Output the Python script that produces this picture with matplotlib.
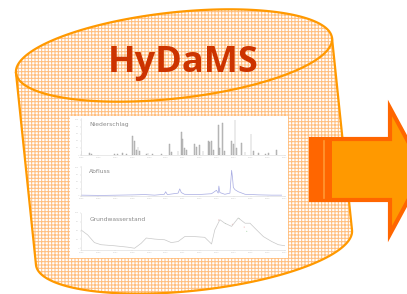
import numpy as np
import matplotlib
matplotlib.use("Agg")
import matplotlib.pyplot as plt
from matplotlib.patches import Rectangle, Polygon

# --- data (decimal years) ---
years = [1995, 1996, 1997, 1998, 1999, 2000, 2001, 2002, 2003, 2004, 2005, 2006, 2007]

rain_x = [1995.0, 1995.5, 1995.6, 1996.97, 1997.17, 1997.46, 1997.66, 1998.05, 1998.15,
          1998.25, 1998.35, 1998.45, 1998.84, 1998.94, 1999.72, 1999.2, 2000.22, 2000.31,
          2000.71, 2000.9, 2000.99, 2001.09, 2001.19, 2001.69, 2001.79, 2001.99, 2002.18,
          2002.48, 2002.58, 2002.68, 2002.78, 2003.07, 2003.17, 2003.31, 2003.46, 2003.86,
          2003.96, 2004.06, 2004.15, 2004.45, 2004.65, 2005.0, 2005.14, 2005.43, 2005.83,
          2006.02, 2006.52]
rain_mm = [12, 5, 3, 3, 4, 5, 4, 55, 40, 15, 22, 12, 4, 6, 3, 3, 30, 8, 10, 65, 45, 20,
           15, 30, 22, 28, 10, 40, 38, 40, 15, 85, 20, 90, 10, 40, 30, 100, 20, 35, 8, 60,
           10, 5, 4, 5, 15]

flow_x = [1995.0, 1996.18, 1997.17, 1998.15, 1998.74, 1999.33, 1999.9, 1999.98, 2000.08,
          2000.71, 2000.81, 2000.9, 2001.09, 2001.89, 2002.68, 2002.97, 2003.07, 2003.11,
          2003.17, 2003.46, 2003.76, 2003.86, 2003.92, 2003.96, 2004.06, 2004.25, 2004.65,
          2005.43, 2006.22, 2006.8]
flow_q = [3, 2, 3, 4, 5, 3, 6, 15, 5, 10, 25, 12, 6, 5, 8, 20, 10, 35, 12, 6, 10, 90,
          60, 30, 22, 15, 6, 4, 3, 3]

gw_x = [1995.0, 1995.39, 1995.79, 1996.18, 1996.97, 1997.76, 1998.15, 1998.54, 1998.84,
        1999.33, 1999.92, 2000.31, 2000.71, 2001.1, 2001.69, 2002.28, 2002.68, 2002.87,
        2003.17, 2003.46, 2003.86, 2004.25, 2004.65, 2004.94, 2005.33, 2005.73, 2006.22,
        2006.61, 2007.0]
gw_h = [52, 38, 16, 10, 7, 3, 0, 14, 29, 26, 24, 16, 19, 33, 33, 31, 12, 52, 81, 71, 62,
        86, 71, 71, 52, 33, 19, 10, 7]
gw_obs_x = [2003.1, 2003.5, 2003.9, 2004.3, 2004.6, 2004.75]
gw_obs_h = [80, 70, 68, 84, 60, 48]

fig = plt.figure(figsize=(4.07, 2.94), dpi=100)
ax = fig.add_axes([0, 0, 1, 1])
ax.set_xlim(0, 407)
ax.set_ylim(294, 0)
ax.axis("off")

# --- cylinder ---
plt.rcParams["hatch.linewidth"] = 0.75
L, R = np.array([16.0, 73.0]), np.array([332.0, 38.0])
c = (L + R) / 2
a = np.hypot(*(R - L)) / 2
th = np.arctan2(R[1] - L[1], R[0] - L[0])
u = np.array([np.cos(th), np.sin(th)])
v = np.array([-np.sin(th), np.cos(th)])
b = 43.0
shift = np.array([20.0, 192.0])


def arc(t0, t1, off=np.zeros(2)):
    t = np.linspace(t0, t1, 120)
    return c + off + np.outer(a * np.cos(t), u) + np.outer(b * np.sin(t), v)


sil = np.vstack([arc(np.pi, 2 * np.pi), arc(0, np.pi, shift)])
ax.add_patch(Polygon(sil, closed=True, facecolor="white", edgecolor="#FFBF80",
                     hatch="+++++", linewidth=0, zorder=1))
ax.add_patch(Polygon(sil, closed=True, fill=False, edgecolor="#FF9900",
                     linewidth=1.6, zorder=2))
front = arc(0, np.pi)
ax.plot(front[:, 0], front[:, 1], color="#FF9900", lw=1.6, zorder=2)

ax.text(108, 72, "HyDaMS", fontsize=26, fontweight="bold", family="Open Sans",
        color="#CC3300", ha="left", va="baseline", zorder=3)

# white card holding the three charts
ax.add_patch(Rectangle((70, 116), 218, 142, facecolor="white", edgecolor="none", zorder=3))

# --- arrow ---
arrow = [(311, 139), (390, 139), (390, 108), (424, 171), (390, 234), (390, 200), (311, 200)]
ax.add_patch(Polygon(arrow, closed=True, facecolor="#FF9900", edgecolor="#FF6600",
                     linewidth=3, joinstyle="miter", zorder=5))
ax.add_patch(Rectangle((311, 139), 21, 61, facecolor="#FF6600", edgecolor="none", zorder=6))
ax.plot([323.5, 323.5], [141, 198], color="#FF9933", lw=1.2, zorder=7)


def px_axes(x0, y0, x1, y1):
    W, H = 407, 294
    return fig.add_axes([x0 / W, 1 - y1 / H, (x1 - x0) / W, (y1 - y0) / H])


def style(axi, title):
    for s in axi.spines.values():
        s.set_color("#d8d8d8")
        s.set_linewidth(0.4)
    axi.spines["top"].set_visible(False)
    axi.spines["right"].set_visible(False)
    axi.set_xlim(years[0], years[-1])
    axi.set_xticks(years)
    axi.set_xticklabels([str(y) for y in years])
    axi.tick_params(labelsize=1.6, colors="#cccccc", length=1, width=0.3, pad=0.5)
    axi.patch.set_alpha(0)
    axi.text(0.04, 0.9, title, transform=axi.transAxes, fontsize=4.3,
             color="#8a8a8a", va="top", ha="left")


a1 = px_axes(81, 118, 285, 155)
a1.bar(rain_x, rain_mm, width=0.05, color="#c4c4c4", edgecolor="#a0a0a0", linewidth=0.3)
a1.set_ylim(0, 105)
a1.set_yticks([0, 20, 40, 60, 80, 100])
style(a1, "Niederschlag")

a2 = px_axes(81, 166, 285, 196)
a2.plot(flow_x, flow_q, color="#a6aae2", lw=0.5)
a2.set_ylim(0, 105)
a2.set_yticks([0, 25, 50, 75, 100])
style(a2, "Abfluss")

a3 = px_axes(81, 213, 285, 250)
a3.plot(gw_x, gw_h, color="#c8c8c8", lw=0.5)
a3.scatter(gw_obs_x, gw_obs_h, s=0.5, color=["#e8a0a0", "#a0d0a0"] * 3, linewidths=0)
a3.set_ylim(-5, 100)
a3.set_yticks([0, 25, 50, 75, 100])
style(a3, "Grundwasserstand")

fig.savefig("out.png", dpi=100)
